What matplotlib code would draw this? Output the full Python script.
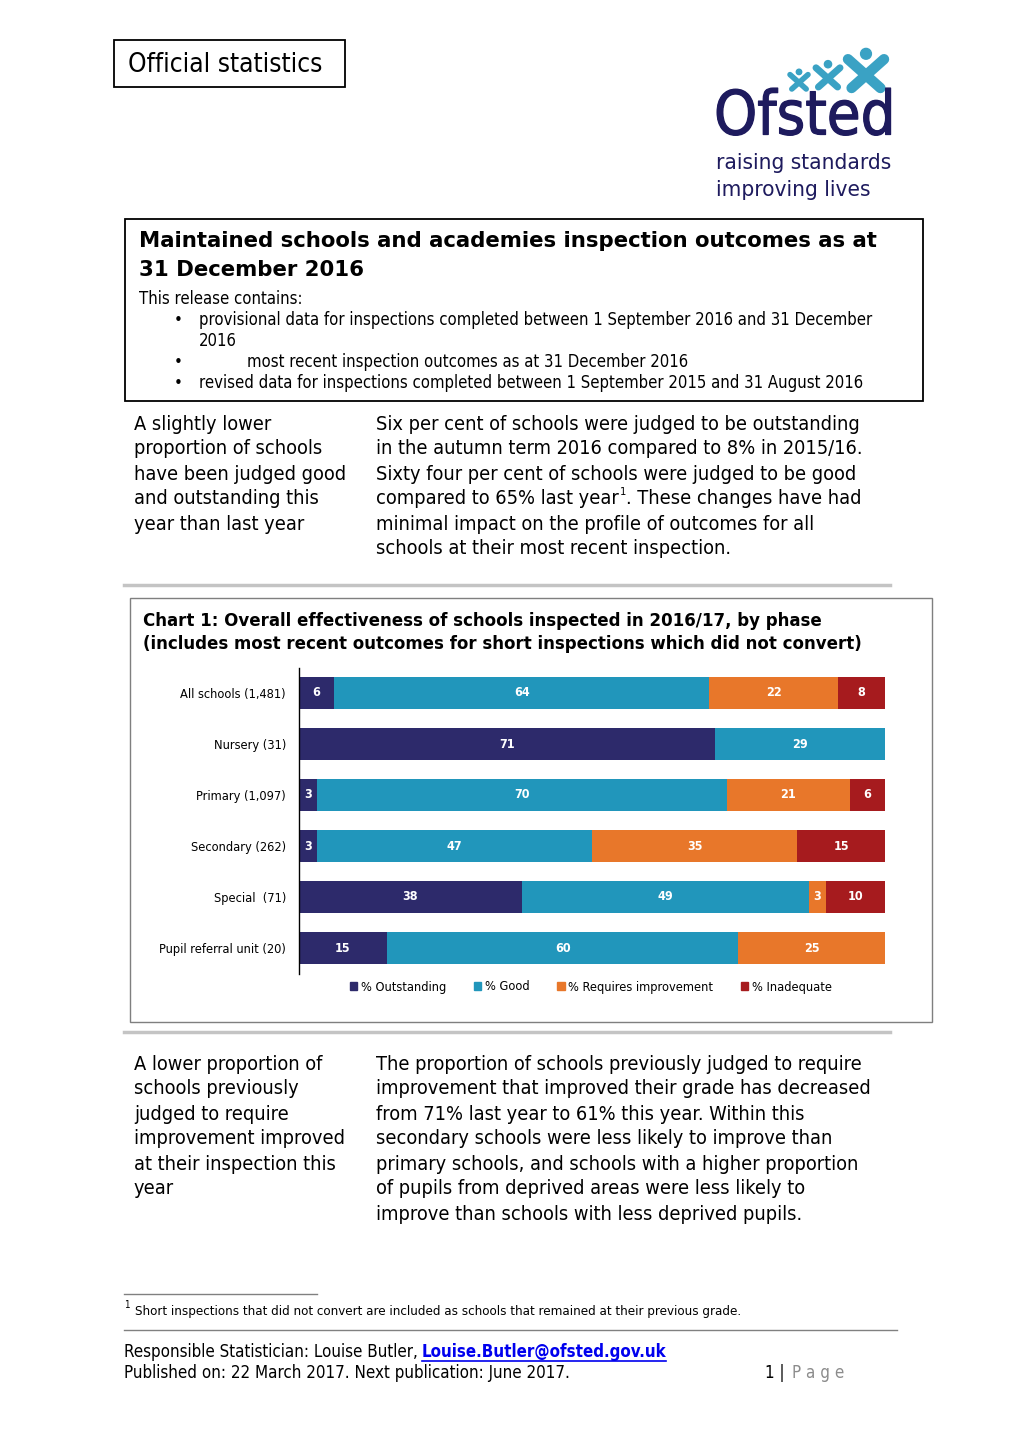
import matplotlib
matplotlib.use("Agg")
import matplotlib.pyplot as plt
from matplotlib.patches import Rectangle, Patch, Circle
import matplotlib.patheffects as pe
import numpy as np

plt.rcParams['font.family'] = ['DejaVu Sans']

# chart data
phases = ["All schools (1,481)", "Nursery (31)", "Primary (1,097)",
          "Secondary (262)", "Special  (71)", "Pupil referral unit (20)"]
outstanding = [6, 71, 3, 3, 38, 15]
good = [64, 29, 70, 47, 49, 60]
requires_improvement = [22, 0, 21, 35, 3, 25]
inadequate = [8, 0, 6, 15, 10, 0]
series_names = ["% Outstanding", "% Good", "% Requires improvement", "% Inadequate"]
series_colors = ["#2d2a6b", "#2196bb", "#e8772a", "#a61b1e"]

W, H = 1020, 1443
fig = plt.figure(figsize=(W / 100, H / 100), dpi=100)
page = fig.add_axes([0, 0, 1, 1])
page.set_xlim(0, W)
page.set_ylim(H, 0)
page.axis("off")

STRETCH = "condensed"
BODY = 14.3


def txt(x, y, s, size=12, weight="normal", color="black", ha="left", va="center",
        stretch=STRETCH, **kw):
    return page.text(x, y, s, fontsize=size, fontweight=weight, color=color,
                     ha=ha, va=va, fontstretch=stretch, **kw)


renderer = fig.canvas.get_renderer()


def right_edge(t):
    bb = t.get_window_extent(renderer=renderer)
    inv = page.transData.inverted()
    return inv.transform((bb.x1, bb.y0))[0]


# "Official statistics" box
page.add_patch(Rectangle((114, 40), 231, 47, fill=False, lw=1.3, ec="black"))
txt(128, 65, "Official statistics", size=18.8)

# logo
navy = "#1e1b5e"
teal = "#3aa2c4"
txt(714, 118, "Ofsted", size=44, color=navy,
    path_effects=[pe.withStroke(linewidth=0.9, foreground=navy)])
txt(716, 163, "raising standards", size=16.2, color=navy)
txt(716, 190, "improving lives", size=16.2, color=navy)
for cx, cy, r, lw in [(799, 80, 9, 4), (828, 75, 12, 5), (866, 70, 18, 7.5)]:
    page.plot([cx - r, cx + 0.8 * r], [cy - 0.6 * r, cy + r], color=teal, lw=lw, solid_capstyle="round")
    page.plot([cx + r, cx - 0.8 * r], [cy - 0.6 * r, cy + r], color=teal, lw=lw, solid_capstyle="round")
    page.add_patch(Circle((cx, cy - 0.9 * r), r * 0.3, color=teal))

# header box
page.add_patch(Rectangle((125, 219), 798, 182, fill=False, lw=1.3, ec="black"))
txt(139, 241, "Maintained schools and academies inspection outcomes as at", size=15.3,
    weight="bold", stretch="normal")
txt(139, 270, "31 December 2016", size=15.3, weight="bold", stretch="normal")
txt(139, 299, "This release contains:", size=12)
bullets = [(320, 199, "provisional data for inspections completed between 1 September 2016 and 31 December"),
           (341, 199, "2016"),
           (362, 247, "most recent inspection outcomes as at 31 December 2016"),
           (383, 199, "revised data for inspections completed between 1 September 2015 and 31 August 2016")]
for y, x, s in bullets:
    txt(x, y, s, size=12)
for y in (320, 362, 383):
    txt(178, y, "\u2022", size=12, ha="center")

# first text block
left1 = ["A slightly lower", "proportion of schools", "have been judged good",
         "and outstanding this", "year than last year"]
for i, s in enumerate(left1):
    txt(134, 424 + 25 * i, s, size=BODY)
right1 = ["Six per cent of schools were judged to be outstanding",
          "in the autumn term 2016 compared to 8% in 2015/16.",
          "Sixty four per cent of schools were judged to be good",
          None,
          "minimal impact on the profile of outcomes for all",
          "schools at their most recent inspection."]
for i, s in enumerate(right1):
    if s:
        txt(376, 424 + 25 * i, s, size=BODY)
t = txt(376, 499, "compared to 65% last year", size=BODY)
x1 = right_edge(t)
txt(x1 + 1, 492, "1", size=8)
txt(x1 + 7, 499, ". These changes have had", size=BODY)

page.plot([124, 890], [585, 585], color="#c4c4c4", lw=2.5)
page.plot([124, 890], [1032, 1032], color="#c4c4c4", lw=2.5)

# chart frame
page.add_patch(Rectangle((130, 598), 802, 424, fill=False, lw=1, ec="#7f7f7f"))
txt(143, 621, "Chart 1: Overall effectiveness of schools inspected in 2016/17, by phase", size=13.3, weight="bold")
txt(143, 644, "(includes most recent outcomes for short inspections which did not convert)", size=13.3, weight="bold")

ax = fig.add_axes([299 / W, 1 - 973.5 / H, 586 / W, 306 / H])
y = np.arange(len(phases))
left = np.zeros(len(phases))
for vals, name, col in zip([outstanding, good, requires_improvement, inadequate], series_names, series_colors):
    vals = np.array(vals, dtype=float)
    ax.barh(y, vals, left=left, height=0.63, color=col, label=name)
    for yi, (l, v) in enumerate(zip(left, vals)):
        if v > 0:
            ax.text(l + v / 2, yi, f"{int(v)}", ha="center", va="center", color="white",
                    fontsize=9, fontweight="bold", fontstretch=STRETCH)
    left += vals
ax.set_xlim(0, 100)
ax.set_ylim(len(phases) - 0.5, -0.5)
ax.set_yticks(y)
ax.set_yticklabels(phases, fontsize=9.2, fontstretch=STRETCH)
ax.tick_params(axis="y", length=0, pad=9.4)
ax.set_xticks([])
for sp in ["top", "right", "bottom"]:
    ax.spines[sp].set_visible(False)
ax.spines["left"].set_linewidth(1)
handles = [Patch(color=c, label=n) for c, n in zip(series_colors, series_names)]
leg = ax.legend(handles=handles, loc="center", bbox_to_anchor=(591 / W, 1 - 987 / H),
                bbox_transform=fig.transFigure, ncol=4, frameon=False,
                handlelength=0.55, handleheight=0.55, handletextpad=0.3, columnspacing=2.2,
                prop={"size": 9.2, "stretch": STRETCH})

# second text block
left2 = ["A lower proportion of", "schools previously", "judged to require",
         "improvement improved", "at their inspection this", "year"]
for i, s in enumerate(left2):
    txt(134, 1064 + 25 * i, s, size=BODY)
right2 = ["The proportion of schools previously judged to require",
          "improvement that improved their grade has decreased",
          "from 71% last year to 61% this year. Within this",
          "secondary schools were less likely to improve than",
          "primary schools, and schools with a higher proportion",
          "of pupils from deprived areas were less likely to",
          "improve than schools with less deprived pupils."]
for i, s in enumerate(right2):
    txt(376, 1064 + 25 * i, s, size=BODY)

# footnote
page.plot([124, 317], [1294, 1294], color="#808080", lw=1)
txt(124, 1305, "1", size=7)
txt(135, 1311, "Short inspections that did not convert are included as schools that remained at their previous grade.", size=9.5)
page.plot([124, 897], [1330, 1330], color="#808080", lw=1)

# footer
t = txt(124, 1352, "Responsible Statistician: Louise Butler, ", size=12.2)
x1 = right_edge(t)
t2 = txt(x1 - 1, 1352, "Louise.Butler@ofsted.gov.uk", size=12.2, weight="bold", color="#0000ee")
x2 = right_edge(t2)
page.plot([x1 - 1, x2], [1361, 1361], color="#0000ee", lw=1.2)
txt(124, 1373, "Published on: 22 March 2017. Next publication: June 2017.", size=12.2)
txt(765, 1373, "1 |", size=12.2)
txt(792, 1373, "P a g e", size=12.2, color="#8c8c8c")

fig.savefig("out.png", dpi=100)
